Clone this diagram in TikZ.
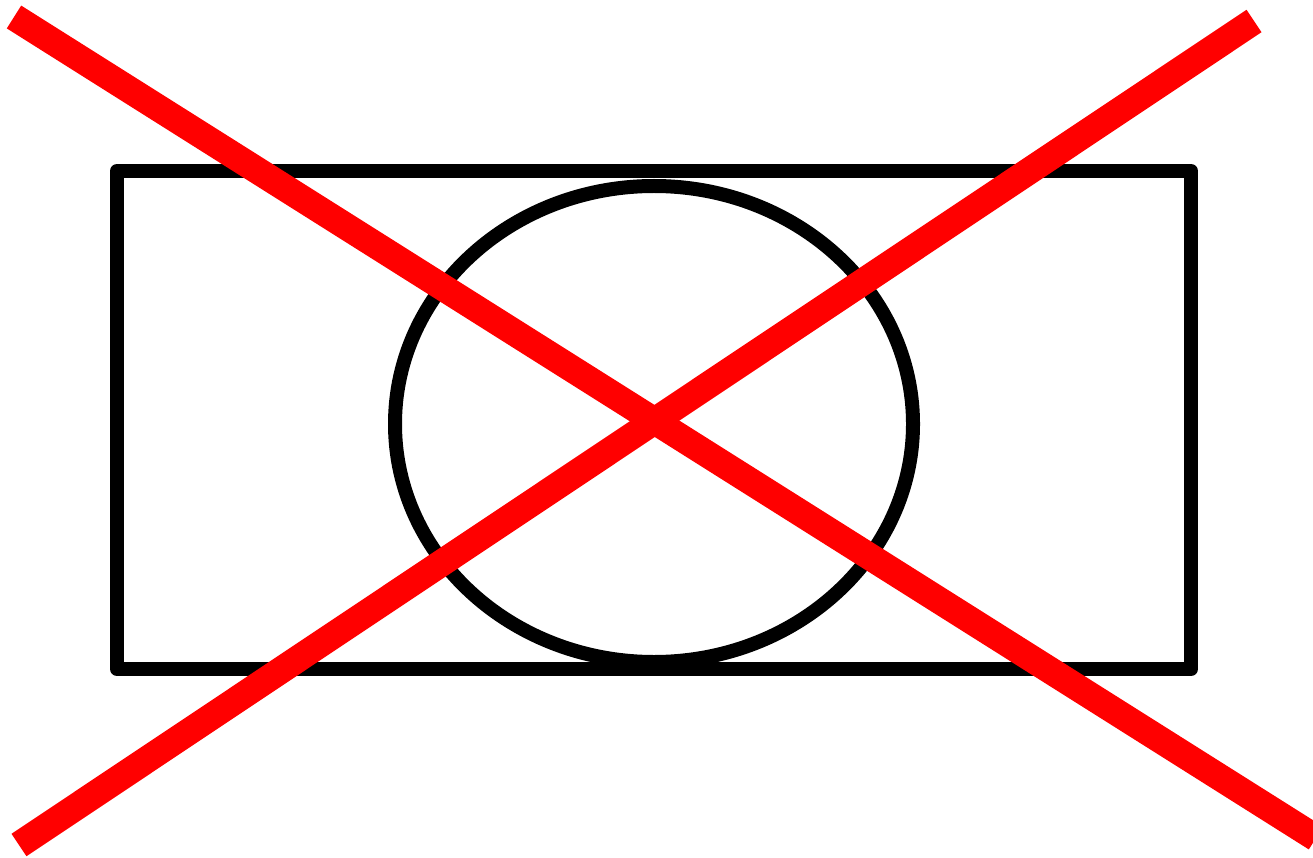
\documentclass[tikz,border=0pt]{standalone}
\usepackage{tikz}
\usepackage{xcolor}

\begin{document}
\begin{tikzpicture}[x=1pt,y=-1pt]
\useasboundingbox (0,0) rectangle (1313,858);
\clip (0,0) rectangle (1313,858);
\draw[line width=14pt,line join=round] (117,171) rectangle (1191,669);
\draw[line width=14pt] (654,424) ellipse [x radius=259,y radius=238];
\draw[red,line width=27pt] (14,17)--(1316,838);
\draw[red,line width=27pt] (1254,21)--(19,845);
\end{tikzpicture}
\end{document}
